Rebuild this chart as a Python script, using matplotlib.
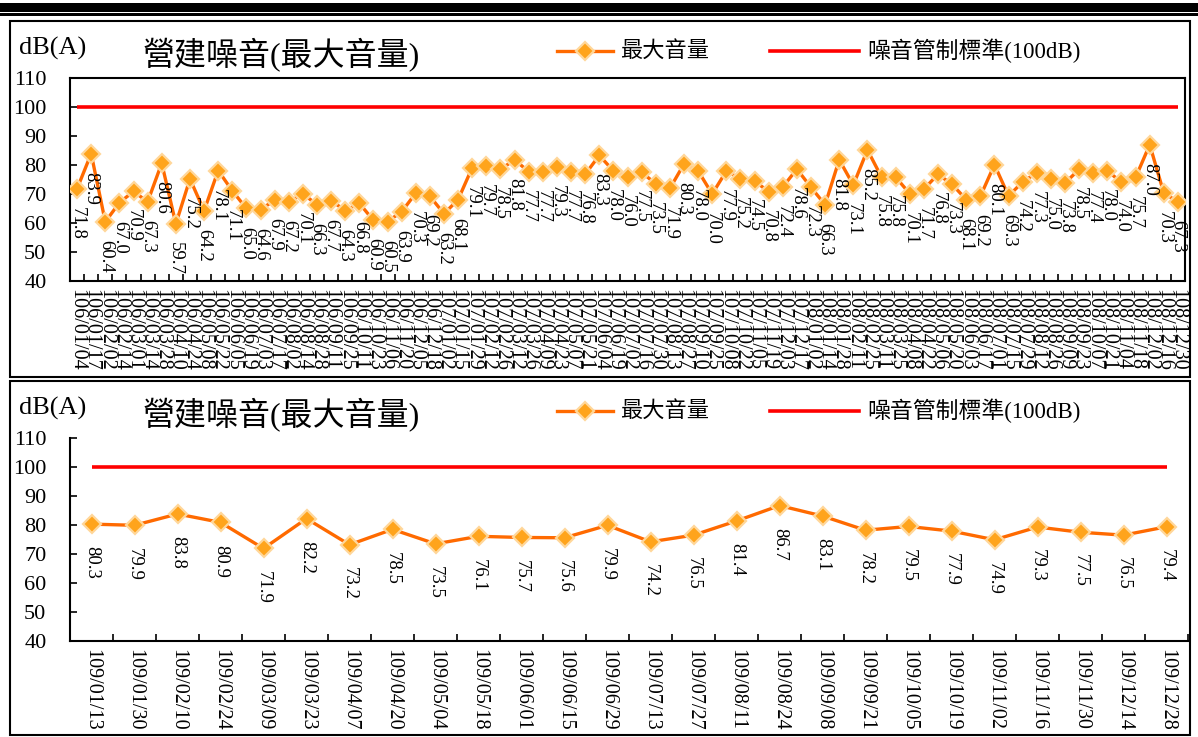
import matplotlib
matplotlib.use("Agg")
import matplotlib.pyplot as plt
from matplotlib.lines import Line2D
from matplotlib.patches import Rectangle

plt.rcParams["font.family"] = ["Liberation Serif", "Noto Sans CJK TC"]

# 106-108 年每兩週量測之最大音量 dB(A)
dates_top = [
    "106/01/04", "106/01/17", "106/02/02", "106/02/14", "106/03/01", "106/03/14",
    "106/03/28", "106/04/10", "106/04/24", "106/05/08", "106/05/22", "106/06/05",
    "106/06/19", "106/07/03", "106/07/17", "106/08/02", "106/08/14", "106/08/28",
    "106/09/11", "106/09/25", "106/10/11", "106/10/23", "106/11/06", "106/11/20",
    "106/12/05", "106/12/18",
    "107/01/02", "107/01/15", "107/01/29", "107/02/12", "107/02/26", "107/03/12",
    "107/03/26", "107/04/09", "107/04/23", "107/05/07", "107/05/21", "107/06/04",
    "107/06/19", "107/07/02", "107/07/16", "107/07/30", "107/08/13", "107/08/27",
    "107/09/10", "107/09/25", "107/10/08", "107/10/22", "107/11/05", "107/11/19",
    "107/12/03", "107/12/17",
    "108/01/02", "108/01/14", "108/01/28", "108/02/11", "108/02/25", "108/03/11",
    "108/03/25", "108/04/08", "108/04/22", "108/05/06", "108/05/20", "108/06/03",
    "108/06/17", "108/07/01", "108/07/15", "108/07/29", "108/08/12", "108/08/26",
    "108/09/09", "108/09/23", "108/10/07", "108/10/21", "108/11/04", "108/11/18",
    "108/12/02", "108/12/16", "108/12/30",
]
noise_top = [
    71.8, 83.9, 60.4, 67.0, 70.9, 67.3, 80.6, 59.7, 75.2, 64.2,
    78.1, 71.1, 65.0, 64.6, 67.9, 67.2, 70.1, 66.3, 67.7, 64.3,
    66.8, 60.9, 60.5, 63.9, 70.3, 69.2, 63.2, 68.1, 79.1, 79.7,
    78.5, 81.8, 77.7, 77.7, 79.3, 77.7, 76.8, 83.3, 78.0, 76.0,
    77.5, 73.5, 71.9, 80.3, 78.0, 70.0, 77.9, 75.2, 74.5, 70.8,
    72.4, 78.6, 72.3, 66.3, 81.8, 73.1, 85.2, 75.8, 75.8, 70.1,
    71.7, 76.8, 73.3, 68.1, 69.2, 80.1, 69.3, 74.2, 77.3, 75.0,
    73.8, 78.5, 77.4, 78.0, 74.0, 75.7, 87.0, 70.3, 67.3,
]

# 109 年
dates_bottom = [
    "109/01/13", "109/01/30", "109/02/10", "109/02/24", "109/03/09", "109/03/23",
    "109/04/07", "109/04/20", "109/05/04", "109/05/18", "109/06/01", "109/06/15",
    "109/06/29", "109/07/13", "109/07/27", "109/08/11", "109/08/24", "109/09/08",
    "109/09/21", "109/10/05", "109/10/19", "109/11/02", "109/11/16", "109/11/30",
    "109/12/14", "109/12/28",
]
noise_bottom = [
    80.3, 79.9, 83.8, 80.9, 71.9, 82.2, 73.2, 78.5, 73.5, 76.1,
    75.7, 75.6, 79.9, 74.2, 76.5, 81.4, 86.7, 83.1, 78.2, 79.5,
    77.9, 74.9, 79.3, 77.5, 76.5, 79.4,
]

limit = 100
title = "營建噪音(最大音量)"
series_name = "最大音量"
limit_name = "噪音管制標準(100dB)"

W, H = 1198, 737
LINE_C = "#FF6A00"
FACE_C = "#FFA41C"
EDGE_C = "#FFD79A"

fig = plt.figure(figsize=(W / 100, H / 100), dpi=100)


def fx(px):
    return px / W


def fy(py):
    return 1 - py / H


# header rules
fig.patches.append(Rectangle((0, fy(12)), 1, 9 / H, transform=fig.transFigure,
                             color="black", lw=0))
fig.patches.append(Rectangle((0, fy(16)), 1, 3 / H, transform=fig.transFigure,
                             color="black", lw=0))


def panel(box_top, box_bot, ax_top, ax_bot, ax_right, dates, values, full_box,
          label_gap):
    fig.patches.append(Rectangle((fx(10), fy(box_bot)), fx(1190) - fx(10),
                                 (box_bot - box_top) / H, transform=fig.transFigure,
                                 fill=False, ec="black", lw=1.5))

    ax = fig.add_axes([fx(70), fy(ax_bot), (ax_right - 70) / W, (ax_bot - ax_top) / H])
    n = len(values)
    x = list(range(n))

    ax.hlines(limit, 0, n - 1, color="red", lw=2.6, zorder=2)
    ax.plot(x, values, color=LINE_C, lw=2.4, marker="D", ms=9.5,
            mfc=FACE_C, mec=EDGE_C, mew=1.6, zorder=3)
    for i, v in enumerate(values):
        ax.annotate(f"{v:.1f}", (i, v), xytext=(0, -label_gap), textcoords="offset points",
                    rotation=-90, ha="center", va="top", fontsize=13.5, zorder=4)

    ax.set_xlim(-0.5, n - 0.5)
    ax.set_ylim(40, 110)
    ax.set_yticks(range(40, 111, 10))
    ax.tick_params(axis="y", direction="in", length=5, width=1.2, labelsize=16, pad=17)
    ax.set_xticks(x)
    ax.set_xticklabels(dates, rotation=-90, fontsize=14.5)
    ax.set_xticks([i - 0.5 for i in range(n + 1)], minor=True)
    ax.tick_params(axis="x", which="major", length=0, pad=6)
    ax.tick_params(axis="x", which="minor", direction="in", length=5, width=1.2)
    for lab in ax.get_xticklabels():
        lab.set_va("top")
    for s in ax.spines.values():
        s.set_linewidth(1.5)
    if not full_box:
        ax.spines["top"].set_visible(False)
        ax.spines["right"].set_visible(False)

    # header texts and legend
    mid = box_top + 30
    fig.text(fx(19), fy(mid - 3), "dB(A)", fontsize=19, va="center")
    fig.text(fx(143), fy(mid + 4), title, fontsize=23, va="center")
    fig.add_artist(Line2D([fx(557), fx(613)], [fy(mid), fy(mid)], color=LINE_C, lw=2.4,
                          transform=fig.transFigure))
    fig.add_artist(Line2D([fx(585)], [fy(mid)], marker="D", ms=9.5, mfc=FACE_C, mec=EDGE_C,
                          mew=1.6, transform=fig.transFigure))
    fig.text(fx(620), fy(mid), series_name, fontsize=16, va="center")
    fig.add_artist(Line2D([fx(770), fx(859)], [fy(mid), fy(mid)], color="red", lw=2.6,
                          transform=fig.transFigure))
    fig.text(fx(867), fy(mid), limit_name, fontsize=16.5, va="center")
    return ax


panel(21, 377, 78, 281, 1185, dates_top, noise_top, True, 13)
panel(381, 735, 438, 641, 1188, dates_bottom, noise_bottom, False, 16)

fig.savefig("out.png", dpi=100)
